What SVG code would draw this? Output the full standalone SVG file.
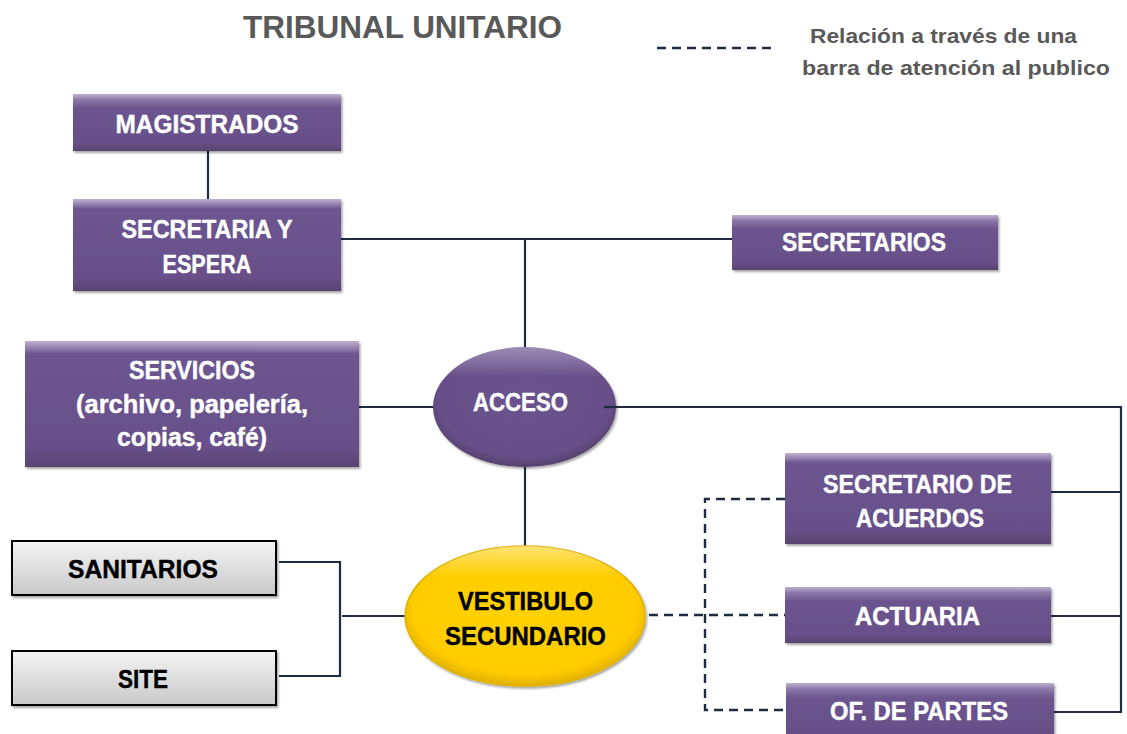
<svg xmlns="http://www.w3.org/2000/svg" width="1127" height="734" viewBox="0 0 1127 734">
<defs>
<linearGradient id="gPurple" x1="0" y1="0" x2="0" y2="1">
<stop offset="0" stop-color="#9a86b5"/>
<stop offset="0.1" stop-color="#6d5590"/>
<stop offset="0.85" stop-color="#67508a"/>
<stop offset="1" stop-color="#58436f"/>
</linearGradient>
<radialGradient id="gPurpleEl" cx="0.5" cy="0.45" r="0.55">
<stop offset="0" stop-color="#6a528c"/>
<stop offset="0.85" stop-color="#67508a"/>
<stop offset="1" stop-color="#54406c"/>
</radialGradient>
<linearGradient id="gPurpleTop" x1="0" y1="0" x2="0" y2="1">
<stop offset="0" stop-color="#ffffff" stop-opacity="0.35"/>
<stop offset="0.25" stop-color="#ffffff" stop-opacity="0"/>
</linearGradient>
<radialGradient id="gYellow" cx="0.5" cy="0.45" r="0.55">
<stop offset="0" stop-color="#ffd200"/>
<stop offset="0.85" stop-color="#ffcc00"/>
<stop offset="1" stop-color="#e0b000"/>
</radialGradient>
<linearGradient id="gYellowTop" x1="0" y1="0" x2="0" y2="1">
<stop offset="0" stop-color="#ffffff" stop-opacity="0.45"/>
<stop offset="0.22" stop-color="#ffffff" stop-opacity="0"/>
</linearGradient>
<linearGradient id="gGray" x1="0" y1="0" x2="0" y2="1">
<stop offset="0" stop-color="#f4f4f4"/>
<stop offset="1" stop-color="#c9c9c9"/>
</linearGradient>
<filter id="shadow" x="-10%" y="-10%" width="125%" height="130%">
<feDropShadow dx="1.5" dy="2" stdDeviation="1.2" flood-color="#000" flood-opacity="0.35"/>
</filter>
</defs>
<style>
.box{fill:url(#gPurple);filter:url(#shadow);}
.hl{fill:url(#gPurpleTop);}
.gbox{fill:url(#gGray);stroke:#000;stroke-width:2;filter:url(#shadow);}
.wt{font-family:"Liberation Sans",Arial,sans-serif;font-weight:bold;font-size:25px;fill:#ffffff;text-anchor:middle;stroke:#ffffff;stroke-width:0.4;}
.bt{font-family:"Liberation Sans",Arial,sans-serif;font-weight:bold;font-size:25px;fill:#000000;text-anchor:middle;stroke:#000000;stroke-width:0.4;}
.title{font-family:"Liberation Sans",Arial,sans-serif;font-weight:bold;font-size:32px;fill:#595959;text-anchor:middle;}
.leg{font-family:"Liberation Sans",Arial,sans-serif;font-weight:bold;font-size:21px;fill:#595959;}
.ln{fill:none;stroke:#1e2b40;stroke-width:2.2;}
.dl{fill:none;stroke:#1e2b40;stroke-width:2.4;stroke-dasharray:9 6;}
</style>
<rect width="1127" height="734" fill="#ffffff"/>

<text class="title" x="402.5" y="38" textLength="319" lengthAdjust="spacingAndGlyphs">TRIBUNAL UNITARIO</text>
<g id="legend">
<line class="dl" x1="657" y1="48" x2="775" y2="48"/>
<text class="leg" x="810" y="43" textLength="267" lengthAdjust="spacingAndGlyphs">Relación a través de una</text>
<text class="leg" x="802" y="75" textLength="308" lengthAdjust="spacingAndGlyphs">barra de atención al publico</text>
</g>

<g id="connectors">
<line class="ln" x1="208" y1="141" x2="208" y2="199"/>
<polyline class="ln" points="341,239 732,239"/>
<line class="ln" x1="525" y1="239" x2="525" y2="347"/>
<line class="ln" x1="359" y1="407" x2="433" y2="407"/>
<polyline class="ln" points="604,407 1121,407 1121,712 1052,712"/>
<line class="ln" x1="1048" y1="492" x2="1121" y2="492"/>
<line class="ln" x1="1048" y1="616" x2="1121" y2="616"/>
<line class="ln" x1="525" y1="467" x2="525" y2="546"/>
<polyline class="ln" points="279,562 340,562 340,676 279,676"/>
<line class="ln" x1="342" y1="616" x2="405" y2="616"/>
<polyline class="dl" points="785,499 705,499 705,710 786,710"/>
<line class="dl" x1="634" y1="615" x2="785" y2="615" stroke-dasharray="2 10 9 6 9 6 9 6 9 6 9 6 9 6 9 6 9 6 9 6 9 6"/>
</g>

<g id="magistrados">
<rect class="box" x="73" y="94" width="268" height="57"/>
<rect class="hl" x="73" y="94" width="268" height="57"/>
<text class="wt" x="207" y="133" textLength="183" lengthAdjust="spacingAndGlyphs">MAGISTRADOS</text>
</g>

<g id="secretaria-espera">
<rect class="box" x="73" y="199" width="268" height="92"/>
<rect class="hl" x="73" y="199" width="268" height="40"/>
<text class="wt" x="207" y="238" textLength="171" lengthAdjust="spacingAndGlyphs">SECRETARIA Y</text>
<text class="wt" x="207" y="273" textLength="89" lengthAdjust="spacingAndGlyphs">ESPERA</text>
</g>

<g id="secretarios">
<rect class="box" x="732" y="215" width="266" height="55"/>
<rect class="hl" x="732" y="215" width="266" height="55"/>
<text class="wt" x="864" y="251" textLength="164" lengthAdjust="spacingAndGlyphs">SECRETARIOS</text>
</g>

<g id="servicios">
<rect class="box" x="25" y="341" width="334" height="126"/>
<rect class="hl" x="25" y="341" width="334" height="50"/>
<text class="wt" x="192" y="379" textLength="126" lengthAdjust="spacingAndGlyphs">SERVICIOS</text>
<text class="wt" x="192" y="413" textLength="232" lengthAdjust="spacingAndGlyphs">(archivo, papelería,</text>
<text class="wt" x="192" y="446" textLength="150" lengthAdjust="spacingAndGlyphs">copias, café)</text>
</g>

<g id="acceso">
<ellipse cx="524.5" cy="407" rx="91.5" ry="60" fill="url(#gPurpleEl)" filter="url(#shadow)"/>
<ellipse cx="524.5" cy="407" rx="91.5" ry="60" fill="url(#gPurpleTop)"/>
<text class="wt" x="520.5" y="411" textLength="95" lengthAdjust="spacingAndGlyphs">ACCESO</text>
</g>
<line class="ln" x1="604" y1="407" x2="618" y2="407"/>

<g id="vestibulo">
<ellipse cx="525" cy="616" rx="120" ry="70" fill="url(#gYellow)" stroke="#e2b200" stroke-width="1.5" filter="url(#shadow)"/>
<ellipse cx="525" cy="616" rx="120" ry="70" fill="url(#gYellowTop)"/>
<text class="bt" x="525.5" y="610" textLength="135" lengthAdjust="spacingAndGlyphs">VESTIBULO</text>
<text class="bt" x="525.5" y="645" textLength="161" lengthAdjust="spacingAndGlyphs">SECUNDARIO</text>
</g>

<g id="secretario-acuerdos">
<rect class="box" x="785" y="453" width="266" height="91"/>
<rect class="hl" x="785" y="453" width="266" height="40"/>
<text class="wt" x="917.5" y="493" textLength="189" lengthAdjust="spacingAndGlyphs">SECRETARIO DE</text>
<text class="wt" x="920" y="527" textLength="128" lengthAdjust="spacingAndGlyphs">ACUERDOS</text>
</g>

<g id="actuaria">
<rect class="box" x="785" y="587" width="266" height="56"/>
<rect class="hl" x="785" y="587" width="266" height="56"/>
<text class="wt" x="917.5" y="625" textLength="125" lengthAdjust="spacingAndGlyphs">ACTUARIA</text>
</g>

<g id="of-partes">
<rect class="box" x="786" y="683" width="268" height="60"/>
<rect class="hl" x="786" y="683" width="268" height="60"/>
<text class="wt" x="919" y="720" textLength="178" lengthAdjust="spacingAndGlyphs">OF. DE PARTES</text>
</g>

<g id="sanitarios">
<rect class="gbox" x="12" y="541" width="264" height="54"/>
<text class="bt" x="143" y="578" textLength="150" lengthAdjust="spacingAndGlyphs">SANITARIOS</text>
</g>

<g id="site">
<rect class="gbox" x="12" y="651" width="264" height="54"/>
<text class="bt" x="143" y="688" textLength="50" lengthAdjust="spacingAndGlyphs">SITE</text>
</g>
</svg>
